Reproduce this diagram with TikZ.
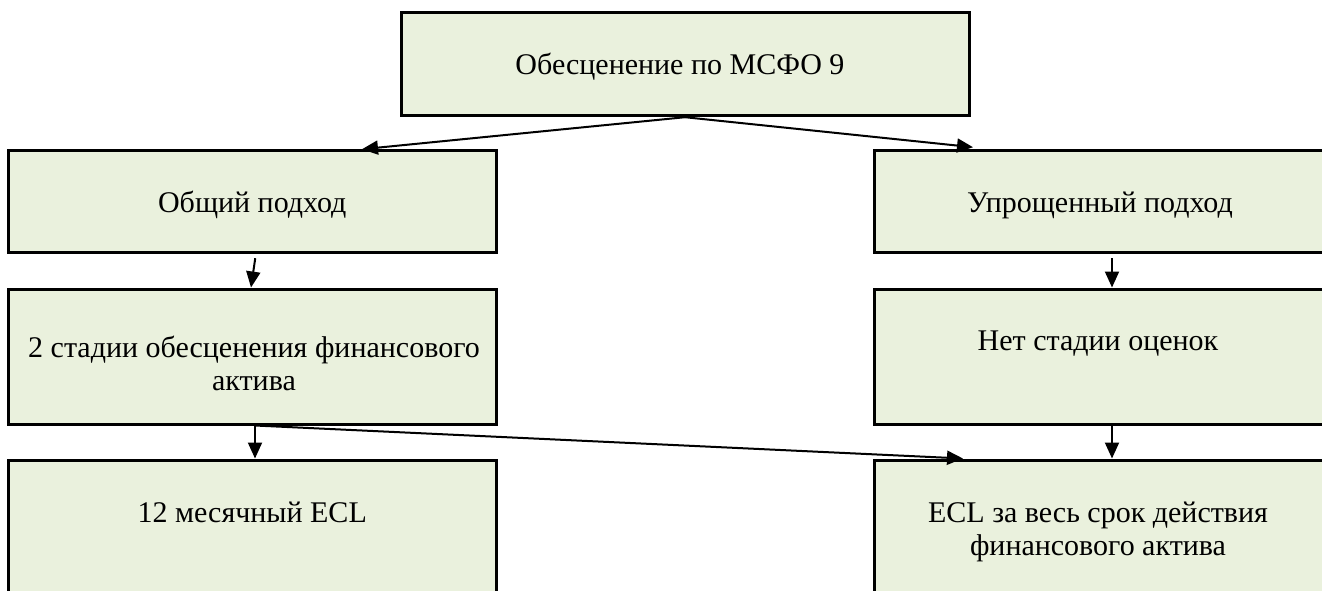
\documentclass[tikz,border=0pt]{standalone}
\usepackage{fontspec}
\setmainfont{Liberation Serif}
\usetikzlibrary{arrows.meta,calc}
\definecolor{boxfill}{HTML}{EAF1DD}
\begin{document}
\begin{tikzpicture}[x=1pt,y=-1pt,
  box/.style={draw=black, line width=3pt, fill=boxfill, rectangle, inner sep=0pt},
  lbl/.style={anchor=base, inner sep=0pt, font=\fontsize{30}{33}\selectfont, align=center},
  link/.style={line width=2pt, -{Triangle[length=16pt,width=14pt]}}]
\useasboundingbox (0,0) rectangle (1322,590);

% boxes
\node[box, minimum width=568pt,   minimum height=103pt] (top) at (685,64.2)    {};
\node[box, minimum width=487.5pt, minimum height=102pt] (l1)  at (252.25,201.7) {};
\node[box, minimum width=451pt,   minimum height=102pt] (r1)  at (1099.5,201.7) {};
\node[box, minimum width=487.5pt, minimum height=135pt] (l2)  at (252.25,356.5) {};
\node[box, minimum width=451pt,   minimum height=135pt] (r2)  at (1099.5,356.5) {};
\node[box, minimum width=487.5pt, minimum height=150pt] (l3)  at (252.25,535)   {};
\node[box, minimum width=451pt,   minimum height=150pt] (r3)  at (1099.5,535)   {};

% texts (base anchor = baseline of the last line)
\node[lbl] (ttop) at (680,74)      {Обесценение по МСФО 9};
\node[lbl] (tl1)  at (252.25,212)  {Общий подход};
\node[lbl] (tr1)  at (1100,212)    {Упрощенный подход};
\node[lbl] (tl2)  at (254,390)     {2 стадии обесценения финансового\\актива};
\node[lbl] (tr2)  at (1098,350)    {Нет стадии оценок};
\node[lbl] (tl3)  at (252.25,522)  {12 месячный ECL};
\node[lbl] (tr3)  at (1098,555)    {ECL за весь срок действия\\финансового актива};

% connectors
\draw[link] (top.south) -- ([xshift=109.75pt]l1.north);
\draw[link] (top.south) -- ([xshift=-126.5pt,yshift=2pt]r1.north);
\draw[link] ([xshift=3pt,yshift=-4pt]l1.south) -- ([xshift=-1.25pt]l2.north);
\draw[link] ([xshift=12.5pt,yshift=-4pt]r1.south) -- ([xshift=12.5pt]r2.north);
\draw[link] ([xshift=2.75pt]l2.south) -- ([xshift=2.75pt]l3.north);
\draw[link] ([xshift=12.5pt]r2.south) -- ([xshift=12.5pt]r3.north);
\draw[link] ([xshift=2.75pt]l2.south) -- ([xshift=-136.5pt]r3.north);
\end{tikzpicture}
\end{document}
